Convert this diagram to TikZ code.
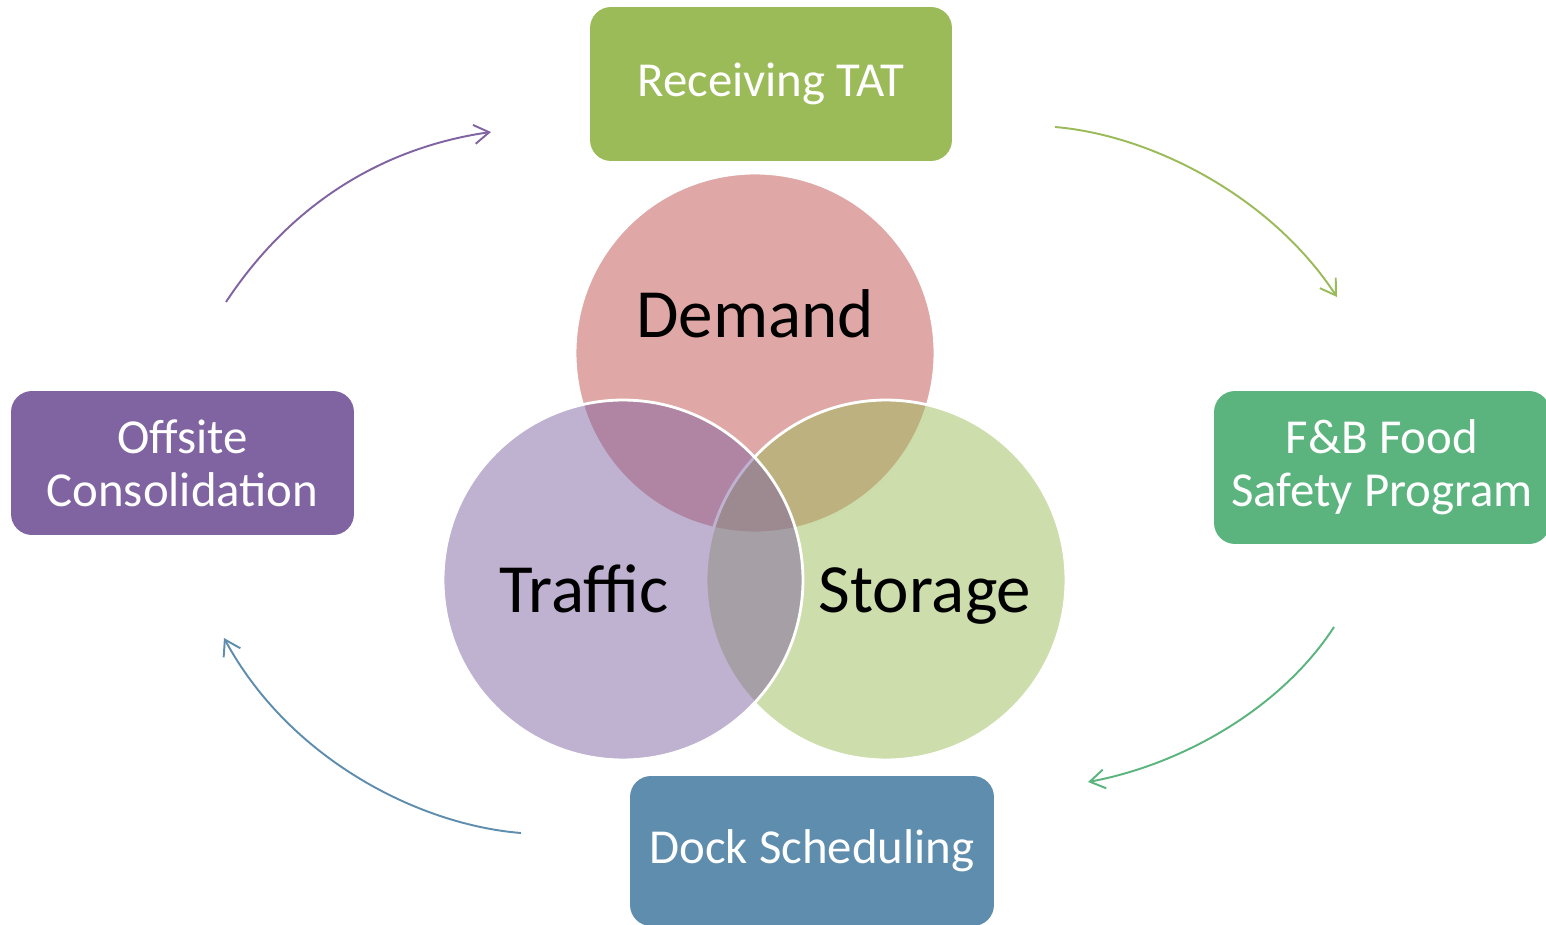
\documentclass[tikz,border=0pt]{standalone}
\usepackage{fontspec}
\setmainfont{Carlito}
\usetikzlibrary{arrows.meta}
\definecolor{DemandRed}{HTML}{C0504D}
\definecolor{TrafficPurple}{HTML}{8064A2}
\definecolor{StorageGreen}{HTML}{9BBB59}
\definecolor{SafetyGreen}{HTML}{5BB47E}
\definecolor{DockBlue}{HTML}{5F8DAE}

\begin{document}
\begin{tikzpicture}[x=0.02cm, y=-0.02cm,
    venn/.style={circle,draw=white,line width=1.6pt,fill opacity=0.5,draw opacity=1,minimum size=7.2cm,inner sep=0pt},
    venntext/.style={anchor=base,font=\fontsize{39.3}{46}\selectfont},
    box/.style={rounded corners=0.42cm,text=white,align=center,inner sep=0pt,font=\fontsize{27.8}{30}\selectfont},
    cyc/.style={line width=1.1pt,-{Straight Barb[length=3mm,width=3.8mm]}}]
    \path[use as bounding box,clip] (0,0) rectangle (1546,925);

    % venn circles
    \node[venn,fill=DemandRed] (demand) at (755,353) {};
    \node[venn,fill=StorageGreen] (storage) at (886,580) {};
    \node[venn,fill=TrafficPurple] (traffic) at (623,580) {};
    \node[venntext] (demandlbl) at (755,338) {Demand};
    \node[venntext] (trafficlbl) at (584,613) {Traffic};
    \node[venntext] (storagelbl) at (925,613) {Storage};

    % boxes
    \node[box,fill=StorageGreen,minimum width=7.24cm,minimum height=3.08cm] (receiving) at (771,84) {Receiving TAT};
    \node[box,fill=SafetyGreen,minimum width=6.72cm,minimum height=3.06cm] (safety) at (1382,467.5) {F\&B Food\\Safety Program};
    \node[box,fill=DockBlue,minimum width=7.28cm,minimum height=3.0cm] (dock) at (812,851) {Dock Scheduling};
    \node[box,fill=TrafficPurple,minimum width=6.86cm,minimum height=2.88cm] (offsite) at (182.5,463) {Offsite\\Consolidation};

    % cycle arrows
    \coordinate (c1) at (1055,127);
    \coordinate (c2) at (1337,297);
    \coordinate (c3) at (1334,627);
    \coordinate (c4) at (1088,782);
    \coordinate (c5) at (521,833);
    \coordinate (c6) at (224,638);
    \coordinate (c7) at (226,302);
    \coordinate (c8) at (491,132);
    \draw[cyc,StorageGreen] (c1) .. controls (1150,135) and (1270,195) .. (c2);
    \draw[cyc,SafetyGreen] (c3) .. controls (1280,710) and (1180,765) .. (c4);
    \draw[cyc,DockBlue] (c5) .. controls (420,825) and (290,760) .. (c6);
    \draw[cyc,TrafficPurple] (c7) .. controls (300,190) and (400,145) .. (c8);
\end{tikzpicture}
\end{document}
